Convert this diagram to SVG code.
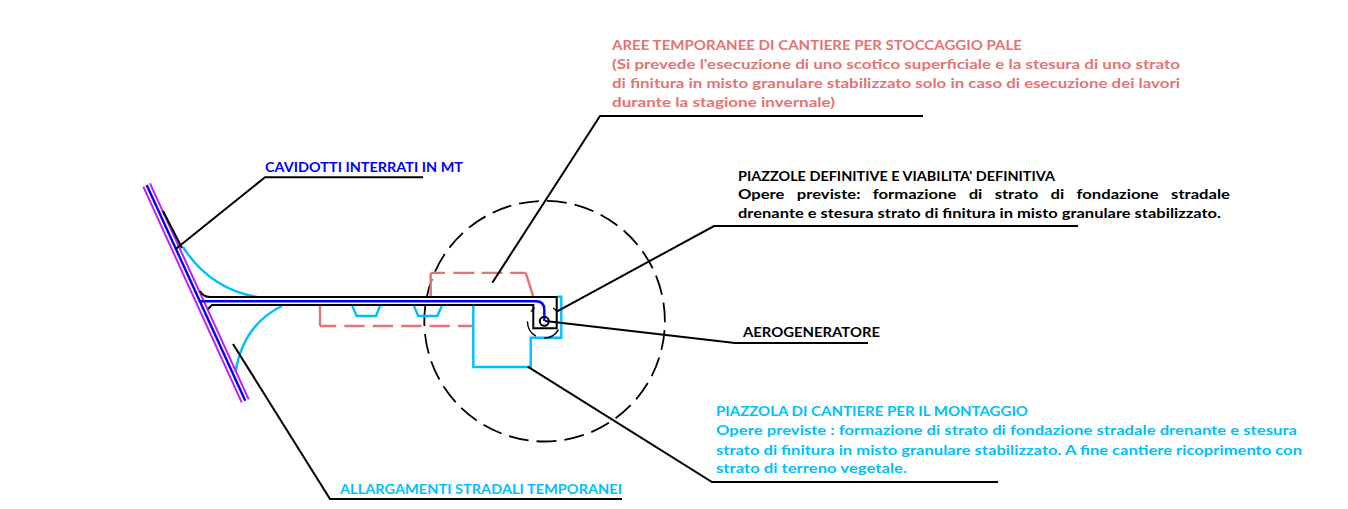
<svg xmlns="http://www.w3.org/2000/svg" width="1348" height="509" viewBox="0 0 1348 509">
<style>
text{font-family:"Lato","Open Sans","Liberation Sans",sans-serif;font-weight:700;font-size:14px}
.l{fill:none;stroke:#000;stroke-width:2}
.c{fill:none;stroke:#00bfff;stroke-width:2.4}
.r{fill:none;stroke:#e57373;stroke-width:2.4}
.p{fill:none;stroke:#bf1fff;stroke-width:2}
.b{fill:none;stroke:#0000ff;stroke-width:2.4}
.tr{fill:#e57373}.tc{fill:#00bfff}.tk{fill:#000}.tb{fill:#0000ff}
</style>
<rect width="1348" height="509" fill="#fff"/>
<g id="circle-area"><circle cx="544.600" cy="321.200" r="120.300" fill="none" stroke="#000" stroke-width="1.800" stroke-dasharray="20 7.996" stroke-dashoffset="-9"/></g>
<g id="temp-areas">
<path class="r" d="M320 306V326"/>
<path class="r" d="M320 326H473" stroke-dasharray="20.200 8.200" stroke-dashoffset="4"/>
<path class="r" d="M430.700 297V272.900"/>
<path class="r" d="M430.700 272.900H525.700" stroke-dasharray="14.300 8.300 21 7.400 20.600 7.700 16"/>
<path class="r" d="M525.700 272.700L533.300 296.700"/>
</g>
<g id="widenings">
<path class="c" d="M183 247Q210 289 257 297"/>
<path class="c" d="M235.500 372Q243 325 282 306"/>
<path class="c" d="M352.300 306L356.700 316H376L380 306"/>
<path class="c" d="M414 306L418.300 316H437.300L441.700 306"/>
</g>
<g id="montage-area"><path class="c" d="M557.300 296.700H561.300V337.700H530.700V367H473.300V306"/></g>
<g id="cables">
<path class="p" d="M143.300 186.700L241.700 402.300"/>
<path class="p" d="M150 183.300L248.700 399.300"/>
<path class="b" d="M146.700 185L245.300 400.700"/>
<path class="b" d="M200 301.300H536Q544.300 301.300 544.300 310V321"/>
</g>
<g id="road">
<path class="l" d="M163 211L182 248"/>
<path class="l" d="M200 291Q203 297 210 297H556.700V328.300H533.300V305H212L208 309"/>
</g>
<g id="turbine">
<circle cx="544.300" cy="321.300" r="4.500" fill="none" stroke="#000" stroke-width="2"/>
<circle cx="544" cy="321.700" r="16.500" fill="none" stroke="#000" stroke-width="1.400" stroke-dasharray="17.300 8.600 17.600 10.400 5.200 19.600 4.300 20.700" stroke-dashoffset="-8.350"/>
</g>
<g id="connectors">
<path class="l" d="M175.700 249L265 177.300H423"/>
<path class="l" d="M233 344L330 499H622"/>
<path class="l" d="M492.300 282.700L600 116H923"/>
<path class="l" d="M556.700 311.700L714 226H1078"/>
<path class="l" d="M545 321L735 343H868"/>
<path class="l" d="M527.700 366.700L712 482H998"/>
</g>
<g id="label-red">
<text class="tr" x="612" y="50" textLength="410" lengthAdjust="spacingAndGlyphs">AREE TEMPORANEE DI CANTIERE PER STOCCAGGIO PALE</text>
<text class="tr" x="612" y="69" textLength="568" lengthAdjust="spacingAndGlyphs">(Si prevede l'esecuzione di uno scotico superficiale e la stesura di uno strato</text>
<text class="tr" x="612" y="88" textLength="568" lengthAdjust="spacingAndGlyphs">di finitura in misto granulare stabilizzato solo in caso di esecuzione dei lavori</text>
<text class="tr" x="612" y="107" textLength="223" lengthAdjust="spacingAndGlyphs">durante la stagione invernale)</text>
</g>
<g id="label-cavidotti"><text class="tb" x="265" y="172" textLength="198" lengthAdjust="spacingAndGlyphs">CAVIDOTTI INTERRATI IN MT</text></g>
<g id="label-piazzole">
<text class="tk" x="738" y="181" textLength="317" lengthAdjust="spacingAndGlyphs">PIAZZOLE DEFINITIVE E VIABILITA' DEFINITIVA</text>
<text class="tk" x="738" y="199" textLength="492" lengthAdjust="spacingAndGlyphs" word-spacing="7">Opere previste: formazione di strato di fondazione stradale</text>
<text class="tk" x="738" y="218" textLength="483" lengthAdjust="spacingAndGlyphs">drenante e stesura strato di finitura in misto granulare stabilizzato.</text>
</g>
<g id="label-aero"><text class="tk" x="743" y="337" textLength="137" lengthAdjust="spacingAndGlyphs">AEROGENERATORE</text></g>
<g id="label-montaggio">
<text class="tc" x="716" y="416" textLength="312" lengthAdjust="spacingAndGlyphs">PIAZZOLA DI CANTIERE PER IL MONTAGGIO</text>
<text class="tc" x="716" y="435" textLength="581" lengthAdjust="spacingAndGlyphs">Opere previste : formazione di strato di fondazione stradale drenante e stesura</text>
<text class="tc" x="716" y="455" textLength="586" lengthAdjust="spacingAndGlyphs">strato di finitura in misto granulare stabilizzato. A fine cantiere ricoprimento con</text>
<text class="tc" x="716" y="473" textLength="191" lengthAdjust="spacingAndGlyphs">strato di terreno vegetale.</text>
</g>
<g id="label-allargamenti"><text class="tc" x="340" y="494" textLength="282" lengthAdjust="spacingAndGlyphs">ALLARGAMENTI STRADALI TEMPORANEI</text></g>
</svg>
